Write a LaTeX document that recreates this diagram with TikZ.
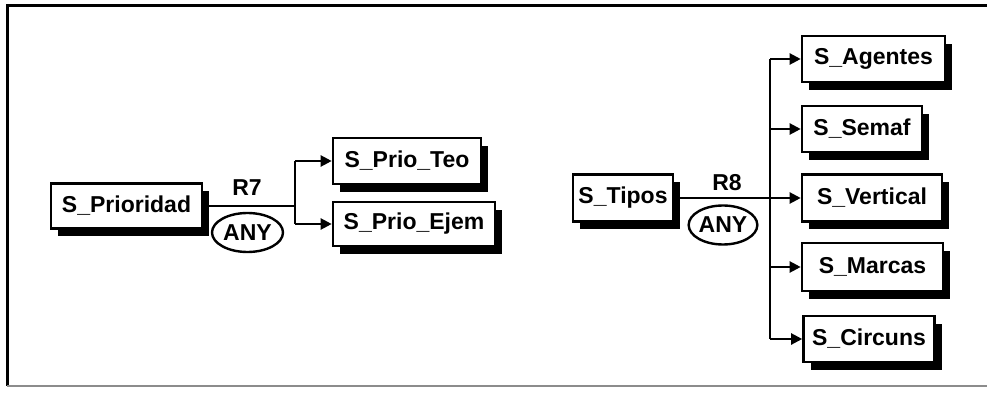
\documentclass[tikz,border=0pt]{standalone}
\usepackage{fontspec}
\setmainfont{Liberation Sans}
\usetikzlibrary{arrows.meta,shadows,shapes.geometric}
\begin{document}
\begin{tikzpicture}[x=1pt,y=-1pt,
  lbl/.style={font=\fontsize{23}{27}\selectfont\bfseries},
  box/.style={lbl, draw=black, line width=2.6pt, fill=white, inner sep=0pt,
    general shadow={fill=black, shadow xshift=7pt, shadow yshift=-8pt}},
  anyell/.style={lbl, ellipse, draw=black, line width=2.4pt, inner sep=0pt},
  conn/.style={line width=2.2pt},
  arr/.style={conn, -{Triangle[length=11pt,width=11pt]}},
  frame/.style={line width=3pt}
]
\useasboundingbox (0,0) rectangle (987,395);
% frame
\coordinate (fTL) at (7,6);
\coordinate (fTR) at (987,6);
\coordinate (fBL) at (7,386);
\coordinate (fBR) at (987,386);
\draw[frame] (fTR) -- (fTL) -- (fBL);
\draw[line width=1.8pt, black!45] (fBL) -- (fBR);

% left group
\node[box, minimum width=151pt, minimum height=45pt] (prio) at (126.5,206) {S\_Prioridad};
\node[box, minimum width=148pt, minimum height=46pt] (teo) at (407,161) {S\_Prio\_Teo};
\node[box, minimum width=162pt, minimum height=44pt] (ejem) at (414,224) {S\_Prio\_Ejem};
\node[lbl] (r7) at (247,188) {R7};
\node[anyell, minimum width=71pt, minimum height=39pt] (any7) at (247.5,232.5) {ANY};
\coordinate (j7) at (295,206);
\coordinate (j7t) at (295,161);
\coordinate (j7b) at (295,224);
\draw[conn] (prio.east) -- (j7);
\draw[conn] (j7t) -- (j7b);
\draw[arr] (j7t) -- (teo.west);
\draw[arr] (j7b) -- (ejem.west);

% right group
\node[box, minimum width=100pt, minimum height=47pt] (tipos) at (623,198) {S\_Tipos};
\node[lbl] (r8) at (727,183) {R8};
\node[anyell, minimum width=63pt, minimum height=39pt] (any8) at (723,225) {ANY};
\node[box, minimum width=143pt, minimum height=46pt] (agen) at (873.5,59) {S\_Agentes};
\node[box, minimum width=120pt, minimum height=46pt] (semaf) at (862,129) {S\_Semaf};
\node[box, minimum width=140pt, minimum height=47pt] (vert) at (872,198) {S\_Vertical};
\node[box, minimum width=141pt, minimum height=48pt] (marc) at (872.5,267) {S\_Marcas};
\node[box, minimum width=131pt, minimum height=46pt] (circ) at (869,339) {S\_Circuns};
\coordinate (j8) at (770,198);
\coordinate (j8a) at (770,59);
\coordinate (j8s) at (770,129);
\coordinate (j8m) at (770,267);
\coordinate (j8c) at (770,339);
\draw[conn] (tipos.east) -- (j8);
\draw[conn] (j8a) -- (j8c);
\draw[arr] (j8a) -- (agen.west);
\draw[arr] (j8s) -- (semaf.west);
\draw[arr] (j8) -- (vert.west);
\draw[arr] (j8m) -- (marc.west);
\draw[arr] (j8c) -- (circ.west);
\end{tikzpicture}
\end{document}
